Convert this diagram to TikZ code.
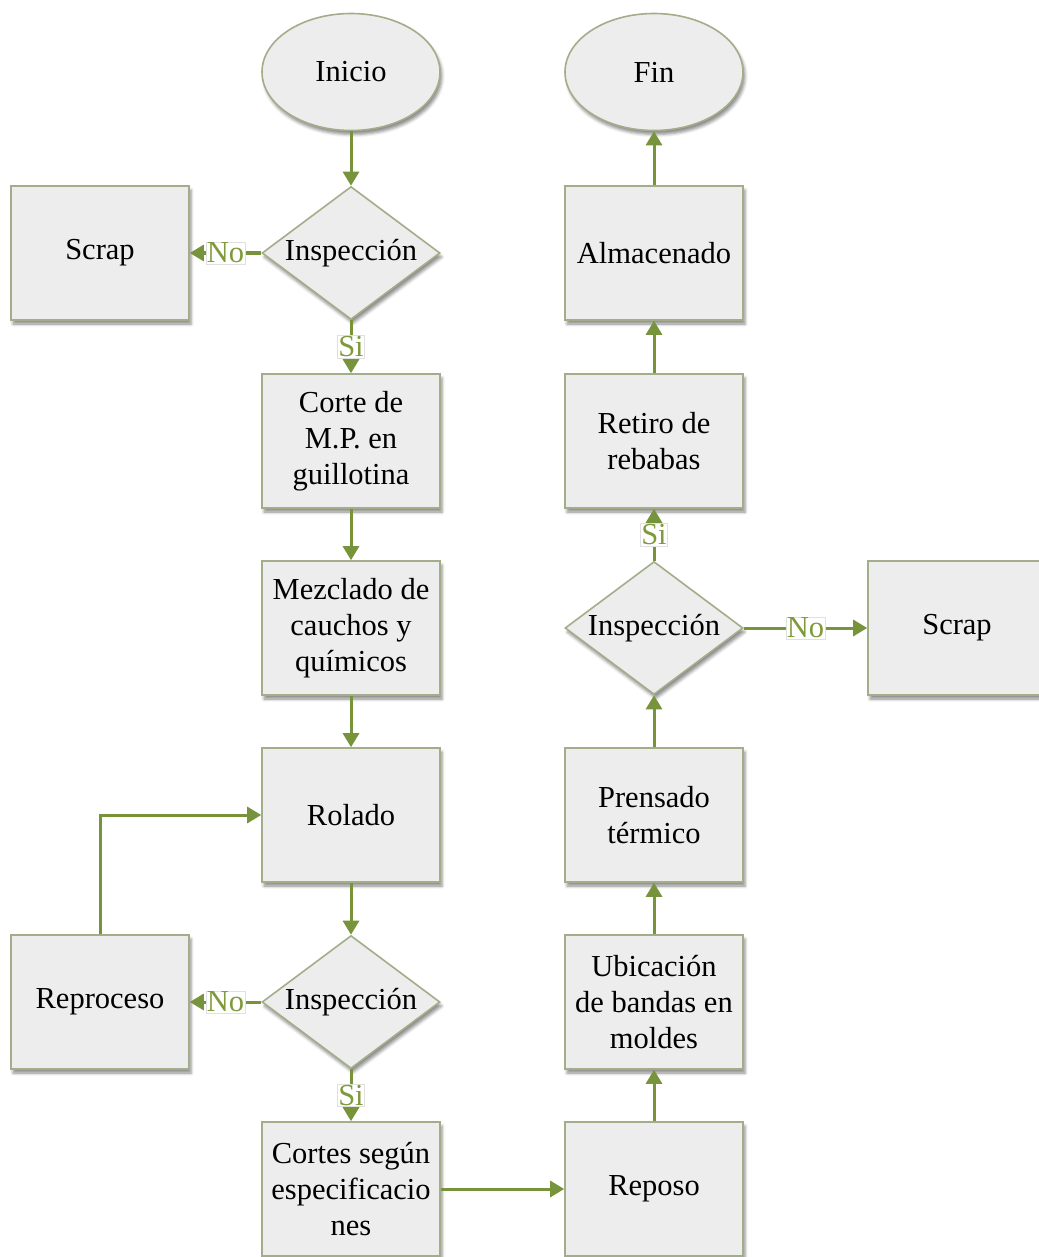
\documentclass[tikz,border=0pt]{standalone}
\usepackage{fontspec}
\setmainfont{Liberation Serif}
\usetikzlibrary{shapes.geometric,arrows.meta,shadows.blur}
\definecolor{boxfill}{HTML}{EDEDED}
\definecolor{boxedge}{HTML}{A3AD8A}
\definecolor{flow}{HTML}{77933C}
\definecolor{lbltext}{HTML}{7F9A3A}
\tikzset{
  base/.style={draw=boxedge, line width=1.6pt, fill=boxfill,
    blur shadow={shadow xshift=2pt, shadow yshift=-4pt, shadow blur radius=3pt, shadow opacity=45},
    font=\fontsize{30.5}{36}\selectfont, align=center, text=black, inner sep=0pt},
  stepbox/.style={base, rectangle, minimum width=178pt, minimum height=134pt},
  terminal/.style={base, ellipse, minimum width=178pt, minimum height=117pt},
  decision/.style={base, diamond, minimum width=178pt, minimum height=133pt},
  conn/.style={draw=flow, line width=3pt, -{Triangle[length=14pt,width=16pt]}},
  lbl/.style={draw=black!12, line width=0.6pt, fill=white, text=lbltext,
    font=\fontsize{30.5}{36}\selectfont, inner sep=1pt, outer sep=0pt}
}
% zero-width text so the diamond keeps its fixed size
\newcommand{\dtext}[1]{\makebox[0pt]{#1}}
\begin{document}
\begin{tikzpicture}[x=1pt,y=-1pt]
\useasboundingbox (0,0) rectangle (1038,1257);

% main column
\node[terminal] (ini)  at (351,72)   {Inicio};
\node[decision] (d1)   at (351,253)  {\dtext{Inspección}};
\node[stepbox]  (scl)  at (100,253)  {Scrap};
\node[stepbox]  (cor)  at (351,441)  {Corte de\\M.P. en\\guillotina};
\node[stepbox]  (mez)  at (351,628)  {Mezclado de\\cauchos y\\químicos};
\node[stepbox]  (rol)  at (351,815)  {Rolado};
\node[decision] (d2)   at (351,1002) {\dtext{Inspección}};
\node[stepbox]  (rep)  at (100,1002) {Reproceso};
\node[stepbox]  (cts)  at (351,1189) {Cortes según\\especificacio\\nes};

% return column
\node[stepbox]  (rpo)  at (654,1189) {Reposo};
\node[stepbox]  (ubi)  at (654,1002) {Ubicación\\de bandas en\\moldes};
\node[stepbox]  (pre)  at (654,815)  {Prensado\\térmico};
\node[decision] (d3)   at (654,628)  {\dtext{Inspección}};
\node[stepbox]  (scr)  at (957,628)  {Scrap};
\node[stepbox]  (ret)  at (654,441)  {Retiro de\\rebabas};
\node[stepbox]  (alm)  at (654,253)  {Almacenado};
\node[terminal] (fin)  at (654,72)   {Fin};

% connectors
\draw[conn] (ini) -- (d1);
\draw[conn] (d1.west) -- node[lbl]{No} (scl.east);
\draw[conn] (d1.south) -- node[lbl]{Si} (cor.north);
\draw[conn] (cor) -- (mez);
\draw[conn] (mez) -- (rol);
\draw[conn] (rol) -- (d2.north);
\draw[conn] (d2.west) -- node[lbl]{No} (rep.east);
\draw[conn] (rep.north) |- (rol.west);
\draw[conn] (d2.south) -- node[lbl]{Si} (cts.north);
\draw[conn] (cts) -- (rpo);
\draw[conn] (rpo) -- (ubi);
\draw[conn] (ubi) -- (pre);
\draw[conn] (pre) -- (d3.south);
\draw[conn] (d3.east) -- node[lbl]{No} (scr.west);
\draw[conn] (d3.north) -- node[lbl]{Si} (ret.south);
\draw[conn] (ret) -- (alm);
\draw[conn] (alm) -- (fin);
\end{tikzpicture}
\end{document}
